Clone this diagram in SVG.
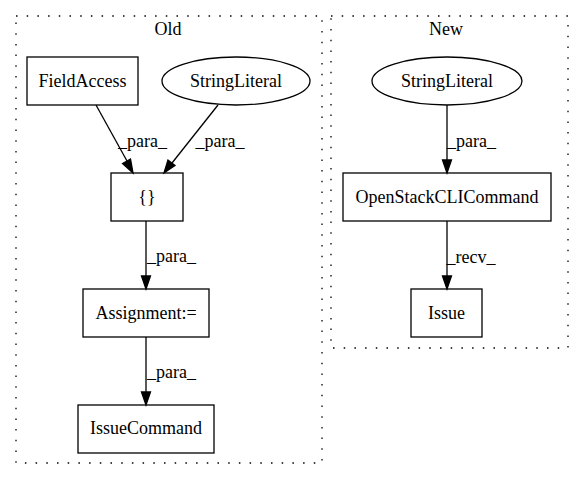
<svg xmlns="http://www.w3.org/2000/svg" width="577" height="480" viewBox="0 0 577 480">
<style>
text{font-family:"Liberation Serif","Times New Roman",serif;font-size:18px;fill:#000}
.c{fill:none;stroke:#000;stroke-width:1.3;stroke-dasharray:1.5,9.2}
.n{fill:none;stroke:#000;stroke-width:1.3}
.e{fill:none;stroke:#000;stroke-width:1.3}
.h{fill:#000;stroke:#000;stroke-width:1.3}
</style>
<rect width="577" height="480" fill="#fff"/>
<g id="cluster_old">
<rect class="c" x="16" y="16" width="306" height="447"/>
<text x="168" y="35" text-anchor="middle">Old</text>
</g>
<g id="cluster_new">
<rect class="c" x="331" y="16" width="237" height="332"/>
<text x="446" y="35" text-anchor="middle">New</text>
</g>
<g id="edges">
<path class="e" d="M96,105 L127,161"/>
<polygon class="h" points="122.5,163.5 133,173 130.5,159"/>
<text x="142.5" y="147" text-anchor="middle">_para_</text>
<path class="e" d="M218,105 L172,163"/>
<polygon class="h" points="168,160 164,173 175,165.5"/>
<text x="220" y="147" text-anchor="middle">_para_</text>
<path class="e" d="M146,221 L146,276"/>
<polygon class="h" points="141.5,276 146,289 150.5,276"/>
<text x="171.5" y="262" text-anchor="middle">_para_</text>
<path class="e" d="M146,337 L146,392"/>
<polygon class="h" points="141.5,392 146,405 150.5,392"/>
<text x="171.5" y="377.5" text-anchor="middle">_para_</text>
<path class="e" d="M447,105 L447,160"/>
<polygon class="h" points="442.5,160 447,173 451.5,160"/>
<text x="471.5" y="147" text-anchor="middle">_para_</text>
<path class="e" d="M447,221 L447,276"/>
<polygon class="h" points="442.5,276 447,289 451.5,276"/>
<text x="471" y="263" text-anchor="middle">_recv_</text>
</g>
<g id="FieldAccess">
<rect class="n" x="27" y="57" width="111" height="48"/>
<text x="82.5" y="86.5" text-anchor="middle">FieldAccess</text>
</g>
<g id="StringLiteral_old">
<ellipse class="n" cx="236" cy="81" rx="74" ry="24"/>
<text x="236" y="86.5" text-anchor="middle">StringLiteral</text>
</g>
<g id="braces">
<rect class="n" x="111" y="173" width="72" height="48"/>
<text x="147" y="202.5" text-anchor="middle">{}</text>
</g>
<g id="Assignment">
<rect class="n" x="83" y="289" width="126" height="48"/>
<text x="146" y="318.5" text-anchor="middle">Assignment:=</text>
</g>
<g id="IssueCommand">
<rect class="n" x="78" y="405" width="136" height="48"/>
<text x="146" y="434" text-anchor="middle">IssueCommand</text>
</g>
<g id="StringLiteral_new">
<ellipse class="n" cx="447" cy="81" rx="75" ry="24"/>
<text x="447" y="86.5" text-anchor="middle">StringLiteral</text>
</g>
<g id="OpenStackCLICommand">
<rect class="n" x="343" y="173" width="208" height="48"/>
<text x="447" y="202.5" text-anchor="middle">OpenStackCLICommand</text>
</g>
<g id="Issue">
<rect class="n" x="411" y="289" width="71" height="48"/>
<text x="446.5" y="318.5" text-anchor="middle">Issue</text>
</g>
</svg>
